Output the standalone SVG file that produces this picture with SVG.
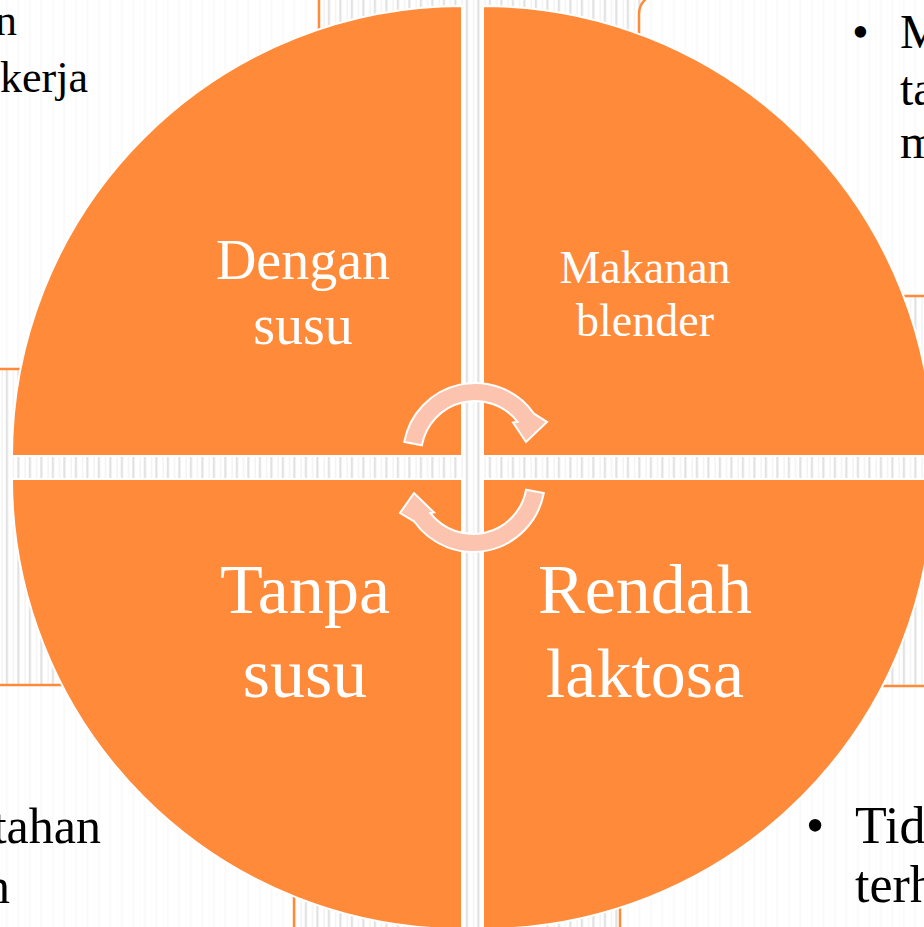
<svg xmlns="http://www.w3.org/2000/svg" width="924" height="927" viewBox="0 0 924 927">
<defs>
<pattern id="stripes" patternUnits="userSpaceOnUse" x="0" y="0" width="11.5" height="20">
<rect x="0" y="0" width="11.5" height="20" fill="#ffffff"/>
<rect x="5.8" y="0" width="2.2" height="20" fill="#e2e2e2"/>
<rect x="1.5" y="0" width="1.2" height="20" fill="#f1f1f1"/>
</pattern>
<style>
.box{fill:#ffffff;fill-opacity:0.82;stroke:#FF8A3A;stroke-width:2.5}
.quad{fill:#FF8A3A;stroke:#ffffff;stroke-width:2}
.arrow{fill:#FCC4AE;stroke:#ffffff;stroke-width:2;stroke-linejoin:miter}
.lbl{font-family:"Liberation Serif","Times New Roman",serif;fill:#ffffff;text-anchor:middle}
.txt{font-family:"Liberation Serif","Times New Roman",serif;fill:#000000}
</style>
</defs>
<rect x="0" y="0" width="924" height="927" fill="url(#stripes)"/>

<g id="box-top-left">
<rect class="box" x="-60" y="-60" width="379" height="429" rx="20"/>
<text class="txt" font-size="44" text-anchor="end" x="17" y="35">n</text>
<text class="txt" font-size="44" text-anchor="end" x="88" y="92">kerja</text>
</g>
<g id="box-top-right">
<rect class="box" x="639" y="-6" width="340" height="302" rx="20"/>
<text class="txt" font-size="48" x="852" y="48">•</text>
<text class="txt" font-size="48" x="900" y="48">M</text>
<text class="txt" font-size="48" x="900" y="105">ta</text>
<text class="txt" font-size="48" x="900" y="158">m</text>
</g>
<g id="box-bottom-left">
<rect class="box" x="-60" y="685" width="354" height="320" rx="20"/>
<text class="txt" font-size="50" text-anchor="end" x="101" y="843">tahan</text>
<text class="txt" font-size="50" text-anchor="end" x="10" y="903">n</text>
</g>
<g id="box-bottom-right">
<rect class="box" x="620" y="686" width="360" height="320" rx="20"/>
<text class="txt" font-size="52" x="806" y="843">•</text>
<text class="txt" font-size="52" x="855" y="843">Tid</text>
<text class="txt" font-size="52" x="855" y="902">terh</text>
</g>

<g id="quad-dengan-susu">
<path class="quad" d="M462,456 L12,456 A450,450 0 0 1 462,6 Z"/>
<text class="lbl" font-size="56" x="303" y="279">Dengan</text>
<text class="lbl" font-size="56" x="303" y="344">susu</text>
</g>
<g id="quad-makanan-blender">
<path class="quad" d="M483,456 L483,6 A450,450 0 0 1 933,456 Z"/>
<text class="lbl" font-size="46" x="645" y="283">Makanan</text>
<text class="lbl" font-size="46" x="645" y="336">blender</text>
</g>
<g id="quad-tanpa-susu">
<path class="quad" d="M462,479 L462,929 A450,450 0 0 1 12,479 Z"/>
<text class="lbl" font-size="70" x="305" y="613">Tanpa</text>
<text class="lbl" font-size="70" x="305" y="697">susu</text>
</g>
<g id="quad-rendah-laktosa">
<path class="quad" d="M483,479 L933,479 A450,450 0 0 1 483,929 Z"/>
<text class="lbl" font-size="70" x="645" y="613">Rendah</text>
<text class="lbl" font-size="70" x="645" y="697">laktosa</text>
</g>

<g id="connectors">
<path class="arrow" d="M404.2,442 A72,72 0 0 1 534,413.7 L547,422 L526,442 L513,422.5 L517.6,421.8 A54,54 0 0 0 421.9,445.3 Z"/>
<path class="arrow" d="M543.8,493 A72,72 0 0 1 414,521.3 L400,513 L414,493 L434,512.5 L430.4,513.2 A54,54 0 0 0 526.1,489.7 Z"/>
</g>
</svg>
